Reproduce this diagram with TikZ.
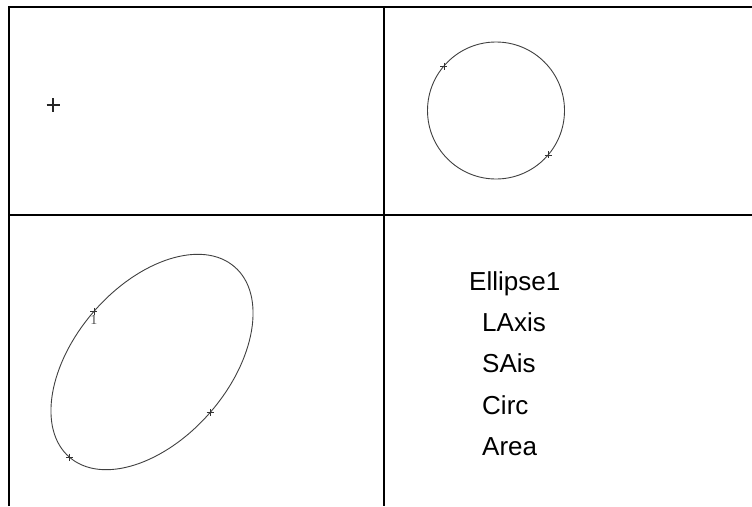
\documentclass[tikz,border=0pt]{standalone}
\usepackage{fontspec}
\setmainfont{Liberation Sans}
\newfontfamily\labelserif{Liberation Serif}
\begin{document}
\begin{tikzpicture}[x=1pt,y=-1pt,
  gridline/.style={line width=2pt,black},
  curve/.style={line width=0.9pt,black!75},
  crossmark/.pic={\draw[line width=0.6pt,black!80] (-3.5,0)--(3.5,0) (0,-3.5)--(0,3.5);},
  item/.style={anchor=base west,inner sep=0pt,font=\fontsize{26}{30}\selectfont}]
\useasboundingbox (0,0) rectangle (752,506);
% table grid
\coordinate (tl) at (8.5,7);
\coordinate (tr) at (752,7);
\coordinate (ml) at (8.5,215);
\coordinate (mr) at (752,215);
\coordinate (bl) at (8.5,506);
\coordinate (tm) at (384,7);
\coordinate (bm) at (384,506);
\draw[gridline] (bl) -- (tl) -- (tr);
\draw[gridline] (ml) -- (mr);
\draw[gridline] (tm) -- (bm);
% top-left cross
\coordinate (pt) at (53,105);
\draw[line width=1.3pt,black!85] (pt) +(-6.5,0) -- +(6.5,0) (pt) +(0,-7) -- +(0,7);
\fill[black!85] (pt) ++(0,-1.2) rectangle ++(6,2.4);
% circle
\coordinate (cc) at (496,110.5);
\draw[curve] (cc) circle [radius=68.5];
\path (cc) ++(-139.5:68.5) coordinate (c1);
\path (cc) ++(40.5:68.5) coordinate (c2);
\pic at (c1) {crossmark};
\pic at (c2) {crossmark};
% ellipse
\coordinate (ec) at (152,362);
\begin{scope}[shift={(ec)},rotate=49]
  \draw[curve] (0,0) ellipse [x radius=126, y radius=77];
  \coordinate (e1) at (0,-77);
  \coordinate (e2) at (0,77);
  \coordinate (e3) at (-126,0);
\end{scope}
\pic at (e1) {crossmark};
\pic at (e2) {crossmark};
\pic at (e3) {crossmark};
\node[anchor=north,inner sep=0pt,yshift=-3.5pt,black!70,font=\labelserif\fontsize{14}{14}\selectfont] (lab1) at (e1) {1};
% text list
\node[item] (t1) at (469,290) {Ellipse1};
\node[item] (t2) at (482,331) {LAxis};
\node[item] (t3) at (482,372) {SAis};
\node[item] (t4) at (482,414) {Circ};
\node[item] (t5) at (482,455) {Area};
\end{tikzpicture}
\end{document}
